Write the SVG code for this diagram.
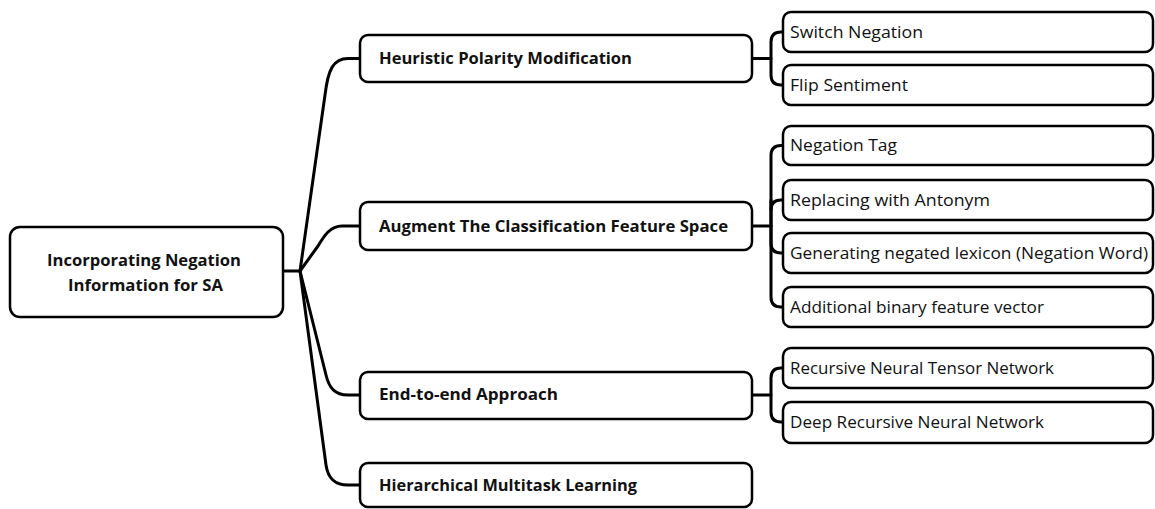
<svg xmlns="http://www.w3.org/2000/svg" width="1155" height="509" viewBox="0 0 1155 509">
<style>
.box{fill:#fff;stroke:#000;stroke-width:2.5}
.conn{fill:none;stroke:#000;stroke-width:3;stroke-linejoin:round;stroke-linecap:round}
.b{font-family:"Open Sans","Liberation Sans",sans-serif;font-weight:bold;font-size:16.5px;fill:#111}
.r{font-family:"Open Sans","Liberation Sans",sans-serif;font-size:16.5px;fill:#111}
</style>
<rect width="1155" height="509" fill="#fff"/>
<g id="connectors">
<path class="conn" d="M283,271 H300"/>
<path class="conn" d="M300,271 L325,95 C328,70 333,58.5 348,58.5 H360"/>
<path class="conn" d="M300,271 L318,246 C324,236 330,226 342,226 H360"/>
<path class="conn" d="M300,271 L326,375 C329,388 335,395 348,395 H360"/>
<path class="conn" d="M300,271 L326,465 C328,478 334,485 348,485 H360"/>
<path class="conn" d="M752,58.5 H771 V42 Q771,32 781,32 H783"/>
<path class="conn" d="M771,58.5 V75 Q771,85 781,85 H783"/>
<path class="conn" d="M752,226 H771 V155.5 Q771,145.5 781,145.5 H783"/>
<path class="conn" d="M771,210 Q771,200 781,200 H783"/>
<path class="conn" d="M771,200 V243 Q771,253 781,253 H783"/>
<path class="conn" d="M771,226 V297 Q771,307 781,307 H783"/>
<path class="conn" d="M752,395 H771 V378 Q771,368 781,368 H783"/>
<path class="conn" d="M771,395 V412 Q771,422 781,422 H783"/>
</g>
<g id="root">
<rect class="box" x="10" y="227" width="273" height="90" rx="10"/>
<text class="b" x="144" y="266" text-anchor="middle" textLength="194" lengthAdjust="spacingAndGlyphs">Incorporating Negation</text>
<text class="b" x="145.5" y="291" text-anchor="middle" textLength="155" lengthAdjust="spacingAndGlyphs">Information for SA</text>
</g>
<g id="heuristic">
<rect class="box" x="360" y="35" width="392" height="47" rx="8"/>
<text class="b" x="379" y="64" textLength="253" lengthAdjust="spacingAndGlyphs">Heuristic Polarity Modification</text>
</g>
<g id="augment">
<rect class="box" x="360" y="202" width="392" height="48" rx="8"/>
<text class="b" x="379" y="232" textLength="349" lengthAdjust="spacingAndGlyphs">Augment The Classification Feature Space</text>
</g>
<g id="endtoend">
<rect class="box" x="360" y="372" width="392" height="47" rx="8"/>
<text class="b" x="379" y="400" textLength="179" lengthAdjust="spacingAndGlyphs">End-to-end Approach</text>
</g>
<g id="hierarchical">
<rect class="box" x="360" y="463" width="392" height="44" rx="8"/>
<text class="b" x="379" y="491" textLength="258" lengthAdjust="spacingAndGlyphs">Hierarchical Multitask Learning</text>
</g>
<g id="switch">
<rect class="box" x="783" y="12" width="370" height="40" rx="8"/>
<text class="r" x="790" y="37.5" textLength="133" lengthAdjust="spacingAndGlyphs">Switch Negation</text>
</g>
<g id="flip">
<rect class="box" x="783" y="65" width="370" height="40" rx="8"/>
<text class="r" x="790" y="90.5" textLength="118" lengthAdjust="spacingAndGlyphs">Flip Sentiment</text>
</g>
<g id="negtag">
<rect class="box" x="783" y="126" width="370" height="39" rx="8"/>
<text class="r" x="790" y="151" textLength="107" lengthAdjust="spacingAndGlyphs">Negation Tag</text>
</g>
<g id="antonym">
<rect class="box" x="783" y="180" width="370" height="40" rx="8"/>
<text class="r" x="790" y="205.5" textLength="200" lengthAdjust="spacingAndGlyphs">Replacing with Antonym</text>
</g>
<g id="lexicon">
<rect class="box" x="783" y="233" width="370" height="40" rx="8"/>
<text class="r" x="790" y="258.5" textLength="358" lengthAdjust="spacingAndGlyphs">Generating negated lexicon (Negation Word)</text>
</g>
<g id="binary">
<rect class="box" x="783" y="287" width="370" height="40" rx="8"/>
<text class="r" x="790" y="312.5" textLength="254" lengthAdjust="spacingAndGlyphs">Additional binary feature vector</text>
</g>
<g id="rntn">
<rect class="box" x="783" y="348" width="370" height="40" rx="8"/>
<text class="r" x="790" y="373.5" textLength="264" lengthAdjust="spacingAndGlyphs">Recursive Neural Tensor Network</text>
</g>
<g id="deep">
<rect class="box" x="783" y="402" width="370" height="41" rx="8"/>
<text class="r" x="790" y="427.5" textLength="254" lengthAdjust="spacingAndGlyphs">Deep Recursive Neural Network</text>
</g>
</svg>
